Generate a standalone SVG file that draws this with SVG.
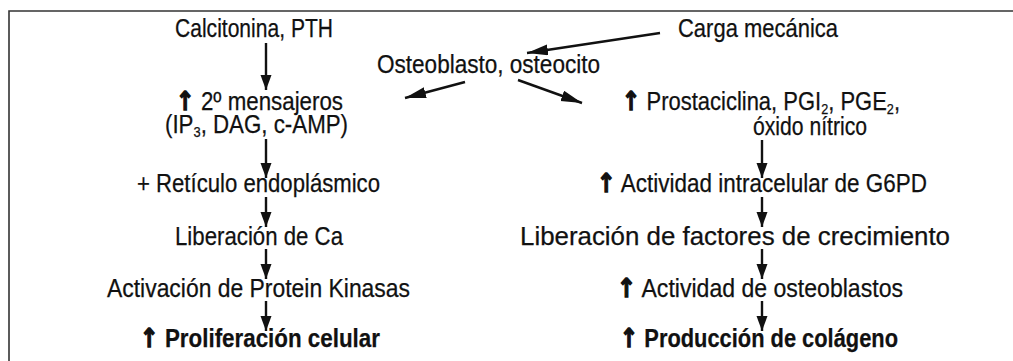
<svg xmlns="http://www.w3.org/2000/svg" width="1013" height="361" viewBox="0 0 1013 361">
<style>
text{font-family:"Liberation Sans",Arial,sans-serif;font-size:26px;fill:#111;stroke:#111;stroke-width:0.25}
.b{font-weight:bold}
.up{font-family:"DejaVu Sans","Liberation Sans",sans-serif;font-weight:bold;stroke-width:1.3}
.sub{font-size:15px}
.c{stroke:#111;stroke-width:2.4;fill:none}
.frame{stroke:#333;stroke-width:1.6;fill:none}
</style>
<defs>
<marker id="hv" markerUnits="userSpaceOnUse" markerWidth="16" markerHeight="12" refX="15" refY="5.5" orient="auto"><path d="M0,0 L15,5.5 L0,11 z" fill="#111"/></marker>
<marker id="hd" markerUnits="userSpaceOnUse" markerWidth="22" markerHeight="12" refX="21" refY="5.5" orient="auto"><path d="M0,0 L21,5.5 L0,11 z" fill="#111"/></marker>
</defs>
<path class="frame" d="M9,361 V11 H1013"/>
<g id="connectors">
<line class="c" x1="266" y1="43" x2="266" y2="90" marker-end="url(#hv)"/>
<line class="c" x1="266" y1="139" x2="266" y2="178" marker-end="url(#hv)"/>
<line class="c" x1="266" y1="197" x2="266" y2="227" marker-end="url(#hv)"/>
<line class="c" x1="266" y1="249" x2="266" y2="279" marker-end="url(#hv)"/>
<line class="c" x1="266" y1="301" x2="266" y2="331" marker-end="url(#hv)"/>
<line class="c" x1="660" y1="33" x2="527" y2="53" marker-end="url(#hd)"/>
<line class="c" x1="465" y1="82" x2="405" y2="98" marker-end="url(#hd)"/>
<line class="c" x1="518" y1="80" x2="582" y2="103" marker-end="url(#hd)"/>
<line class="c" x1="762" y1="140" x2="762" y2="178" marker-end="url(#hv)"/>
<line class="c" x1="762" y1="197" x2="762" y2="227" marker-end="url(#hv)"/>
<line class="c" x1="762" y1="249" x2="762" y2="279" marker-end="url(#hv)"/>
<line class="c" x1="762" y1="301" x2="762" y2="331" marker-end="url(#hv)"/>
</g>
<g id="n-calcitonina"><text x="175" y="37" textLength="158" lengthAdjust="spacingAndGlyphs">Calcitonina, PTH</text></g>
<g id="n-carga"><text x="678" y="37" textLength="160" lengthAdjust="spacingAndGlyphs">Carga mecánica</text></g>
<g id="n-osteoblasto"><text x="377" y="73" textLength="223" lengthAdjust="spacingAndGlyphs">Osteoblasto, osteocito</text></g>
<g id="n-mensajeros">
<text x="176" y="110" textLength="167" lengthAdjust="spacingAndGlyphs"><tspan class="up">↑</tspan> 2º mensajeros</text>
<text x="165" y="133" textLength="183" lengthAdjust="spacingAndGlyphs">(IP<tspan class="sub" baseline-shift="-4">3</tspan>, DAG, c-AMP)</text>
</g>
<g id="n-reticulo"><text x="137" y="192" textLength="243" lengthAdjust="spacingAndGlyphs">+ Retículo endoplásmico</text></g>
<g id="n-liberacion-ca"><text x="175" y="245" textLength="168" lengthAdjust="spacingAndGlyphs">Liberación de Ca</text></g>
<g id="n-activacion"><text x="107" y="297" textLength="303" lengthAdjust="spacingAndGlyphs">Activación de Protein Kinasas</text></g>
<g id="n-proliferacion"><text class="b" x="140" y="347" textLength="240" lengthAdjust="spacingAndGlyphs"><tspan class="up">↑</tspan> Proliferación celular</text></g>
<g id="n-prostaciclina">
<text x="622" y="110" textLength="278" lengthAdjust="spacingAndGlyphs"><tspan class="up">↑</tspan> Prostaciclina, PGI<tspan class="sub" baseline-shift="-4">2</tspan>, PGE<tspan class="sub" baseline-shift="-4">2</tspan>,</text>
<text x="753" y="135" textLength="114" lengthAdjust="spacingAndGlyphs">óxido nítrico</text>
</g>
<g id="n-g6pd"><text x="597" y="192" textLength="330" lengthAdjust="spacingAndGlyphs"><tspan class="up">↑</tspan> Actividad intracelular de G6PD</text></g>
<g id="n-factores"><text x="520" y="245" textLength="430" lengthAdjust="spacingAndGlyphs">Liberación de factores de crecimiento</text></g>
<g id="n-osteoblastos"><text x="617" y="297" textLength="286" lengthAdjust="spacingAndGlyphs"><tspan class="up">↑</tspan> Actividad de osteoblastos</text></g>
<g id="n-colageno"><text class="b" x="620" y="347" textLength="278" lengthAdjust="spacingAndGlyphs"><tspan class="up">↑</tspan> Producción de colágeno</text></g>
</svg>
